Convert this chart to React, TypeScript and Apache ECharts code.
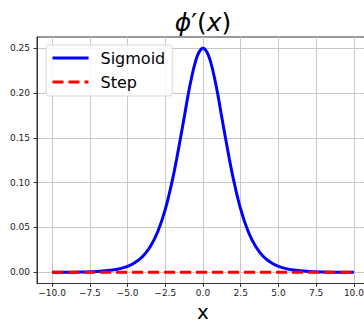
import React, { useEffect, useRef } from "react";
import * as echarts from "echarts";

// x positions and sigmoid-derivative values
const xs = [-10, -9, -8, -7, -6, -5.5, -5, -4.5, -4, -3.5, -3, -2.5, -2, -1.75, -1.5, -1.25, -1, -0.75, -0.5, -0.25, 0,
  0.25, 0.5, 0.75, 1, 1.25, 1.5, 1.75, 2, 2.5, 3, 3.5, 4, 4.5, 5, 5.5, 6, 7, 8, 9, 10];
const sigmoidD = [0.0000, 0.0001, 0.0003, 0.0009, 0.0025, 0.0041, 0.0066, 0.0109, 0.0177, 0.0285, 0.0452, 0.0701, 0.1050, 0.1262, 0.1491, 0.1724, 0.1966, 0.2179, 0.2350, 0.2461, 0.2500,
  0.2461, 0.2350, 0.2179, 0.1966, 0.1724, 0.1491, 0.1262, 0.1050, 0.0701, 0.0452, 0.0285, 0.0177, 0.0109, 0.0066, 0.0041, 0.0025, 0.0009, 0.0003, 0.0001, 0.0000];
const stepXs = [-10, 10];
const stepD = [0, 0];
const xTicks = [-10, -7.5, -5, -2.5, 0, 2.5, 5, 7.5, 10];
const yTicks = [0, 0.05, 0.1, 0.15, 0.2, 0.25];
const seriesNames = ["Sigmoid", "Step"];

const FONT = "DejaVu Sans";

export default function App() {
  const ref = useRef<HTMLDivElement>(null);
  useEffect(() => {
    if (!ref.current) return;
    const chart = echarts.init(ref.current, null, { renderer: "svg" });
    const minus = (s: string) => s.replace("-", "\u2212");
    chart.setOption({
      animation: false,
      backgroundColor: "#ffffff",
      grid: {
        left: 37,
        top: 37,
        width: 332,
        height: 246.5,
        outerBoundsMode: "none",
        containLabel: false,
        show: true,
        borderColor: "#333333",
        borderWidth: 1,
        backgroundColor: "transparent",
      },
      graphic: [
        {
          type: "text",
          x: 203,
          y: 22.5,
          style: {
            text: "{i|ϕ}{n|′(}{i|x}{n|)}",
            textAlign: "center",
            textVerticalAlign: "middle",
            fill: "#000",
            rich: {
              i: { fontFamily: FONT, fontStyle: "italic", fontSize: 25, fill: "#000" },
              n: { fontFamily: FONT, fontSize: 25, fill: "#000" },
            },
          },
        },
      ],
      legend: {
        left: 46,
        top: 45,
        orient: "vertical",
        data: seriesNames,
        itemWidth: 36,
        itemHeight: 16,
        itemGap: 8,
        padding: [5, 7, 6, 5],
        backgroundColor: "rgba(255,255,255,0.85)",
        borderColor: "#d8d8d8",
        borderWidth: 1,
        borderRadius: 3,
        itemStyle: { opacity: 0 },
        lineStyle: { width: 3 },
        textStyle: { fontFamily: FONT, fontSize: 16, color: "#000", padding: [0, 0, 0, 7] },
      },
      xAxis: {
        type: "value",
        min: -11,
        max: 11,
        name: "x",
        nameLocation: "middle",
        nameGap: 17,
        nameTextStyle: { fontFamily: FONT, fontSize: 20, lineHeight: 18, color: "#000" },
        axisLine: { show: true, onZero: false, lineStyle: { color: "#333", width: 1 } },
        axisTick: { show: true, length: 3.5, customValues: xTicks, lineStyle: { color: "#333" } },
        axisLabel: {
          customValues: xTicks,
          margin: 5,
          fontFamily: FONT,
          fontSize: 9,
          color: "#222",
          formatter: (v: number) => minus(v.toFixed(1)),
        },
        splitLine: { show: true, lineStyle: { color: "#c8c8c8", width: 1 } },
      },
      yAxis: {
        type: "value",
        min: -0.0125,
        max: 0.2625,
        axisLine: { show: true, onZero: false, lineStyle: { color: "#333", width: 1 } },
        axisTick: { show: true, length: 3.5, customValues: yTicks, lineStyle: { color: "#333" } },
        axisLabel: {
          customValues: yTicks,
          margin: 7,
          fontFamily: FONT,
          fontSize: 9,
          color: "#222",
          formatter: (v: number) => v.toFixed(2),
        },
        splitLine: { show: true, lineStyle: { color: "#c8c8c8", width: 1 } },
      },
      series: [
        {
          name: seriesNames[0],
          type: "line",
          data: xs.map((x, i) => [x, sigmoidD[i]]),
          symbol: "none",
          smooth: 0.4,
          lineStyle: { color: "#0000ff", width: 3 },
          itemStyle: { color: "#0000ff" },
        },
        {
          name: seriesNames[1],
          type: "line",
          data: stepXs.map((x, i) => [x, stepD[i]]),
          symbol: "none",
          lineStyle: { color: "#ff0000", width: 3, type: [11, 5] },
          itemStyle: { color: "#ff0000" },
        },
      ],
    });
    return () => chart.dispose();
  }, []);
  return (
    <div
      ref={ref}
      style={{ position: "fixed", left: 0, top: 0, width: 364, height: 323 }}
    />
  );
}
